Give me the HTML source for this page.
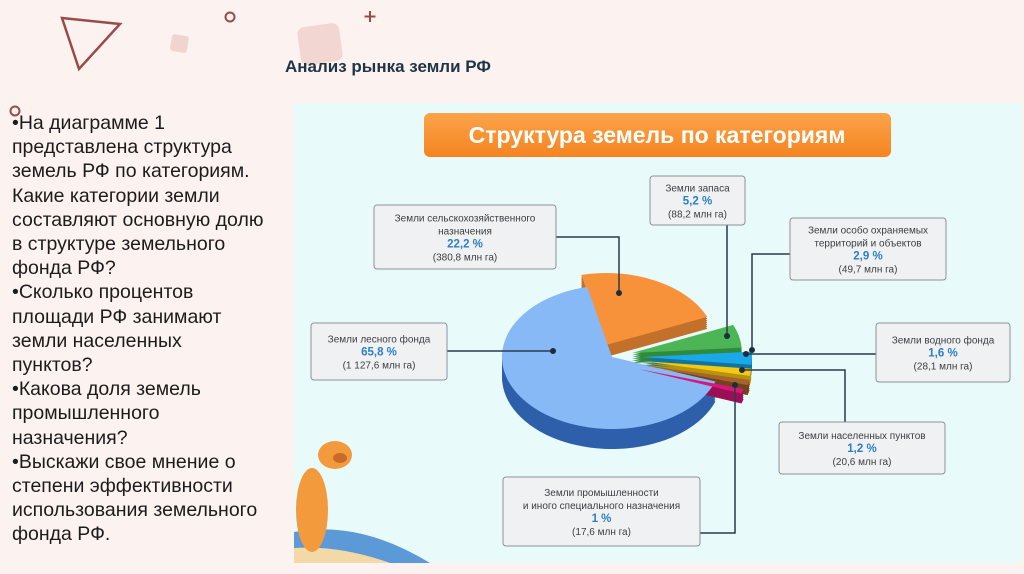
<!DOCTYPE html>
<html><head><meta charset="utf-8">
<style>
html,body{margin:0;padding:0}
body{width:1024px;height:574px;background:#fcf3f0;position:relative;overflow:hidden;font-family:"Liberation Sans",sans-serif}
.lt{position:absolute;left:12px;top:111px;width:290px;font-size:19.5px;line-height:24.2px;color:#1c1c1c;white-space:nowrap}
.hd{position:absolute;left:285px;top:57px;font-size:17px;font-weight:bold;color:#1f3446}
</style></head><body>
<svg width="1024" height="574" style="position:absolute;left:0;top:0">
<polygon points="62,18 120,24 79,69" fill="none" stroke="#9b4a4a" stroke-width="2.5"/>
<circle cx="230" cy="17" r="4.5" fill="none" stroke="#9b4a4a" stroke-width="2"/>
<circle cx="15" cy="111" r="4.5" fill="none" stroke="#9b4a4a" stroke-width="2"/>
<path d="M370 11v11M364.5 16.5h11" stroke="#9b4a4a" stroke-width="2"/>
<rect x="171" y="35" width="17" height="17" rx="3" fill="#f0d4d0" transform="rotate(10 179 43)"/>
<rect x="299" y="25" width="42" height="38" rx="7" fill="#f2d6d2" transform="rotate(-8 320 44)"/>
</svg>
<div class="hd">Анализ рынка земли РФ</div>
<div class="lt">•На диаграмме 1<br>представлена структура<br>земель РФ по категориям.<br>Какие категории земли<br>составляют основную долю<br>в структуре земельного<br>фонда РФ?<br>•Сколько процентов<br>площади РФ занимают<br>земли населенных<br>пунктов?<br>•Какова доля земель<br>промышленного<br>назначения?<br>•Выскажи свое мнение о<br>степени эффективности<br>использования земельного<br>фонда РФ.</div>

<svg id="chart" width="1024" height="574" style="position:absolute;left:0;top:0" font-family="Liberation Sans, sans-serif">
<defs><linearGradient id="og" x1="0" y1="0" x2="0" y2="1"><stop offset="0" stop-color="#fba44a"/><stop offset="1" stop-color="#f58420"/></linearGradient></defs>
<rect x="294" y="103" width="728" height="460" fill="#e9fafb"/>
<path d="M294 532 Q360 520 430 563 L294 563Z" fill="#5b9ad6"/>
<path d="M294 548 Q340 545 390 563 L294 563Z" fill="#f4d9a8"/>
<g>
<ellipse cx="312" cy="510" rx="16" ry="42" fill="#f39a3c"/>
<ellipse cx="335" cy="455" rx="17" ry="14" fill="#f39a3c"/>
<ellipse cx="340" cy="458" rx="7" ry="5" fill="#c96a2a"/>
</g>
<rect x="424" y="113" width="467" height="44" rx="6" fill="url(#og)"/>
<text x="657" y="143" text-anchor="middle" font-size="23" font-weight="bold" fill="#fff">Структура земель по категориям</text>
<g id="pie"></g>
<g id="labels"></g>
</svg>
<script>
const categories=["Земли сельскохозяйственного назначения","Земли запаса","Земли особо охраняемых территорий и объектов","Земли водного фонда","Земли населенных пунктов","Земли промышленности и иного специального назначения","Земли лесного фонда"];
const percents=[22.2,5.2,2.9,1.6,1.2,1,65.8];
const areas=["380,8","88,2","49,7","28,1","20,6","17,6","1 127,6"];
const colors=["#f7923a","#4cb556","#1aa9e8","#f5c812","#a5642c","#d8177a","#86b9f5"];
const darks=["#c2702a","#2f8a3a","#11759e","#b8930a","#74431c","#9a0f55","#2e5faa"];
const explode=[[-6,-12],[20,-4],[30,0],[30,4],[30,8],[26,12],[0,0]];
const cx=612,cy=357,rx=110,ry=72,depth=20;
const ns="http://www.w3.org/2000/svg";
const pie=document.getElementById('pie');
function pt(a,ox,oy,dy){return [cx+ox+rx*Math.cos(a),cy+oy+dy+ry*Math.sin(a)];}
function slicePath(a0,a1,ox,oy,dy){
  const p0=pt(a0,ox,oy,dy),p1=pt(a1,ox,oy,dy);
  const large=(a1-a0)>Math.PI?1:0;
  return `M${cx+ox} ${cy+oy+dy} L${p0[0]} ${p0[1]} A${rx} ${ry} 0 ${large} 1 ${p1[0]} ${p1[1]} Z`;
}
const total=percents.reduce((s,v)=>s+v,0);
let start=-103*Math.PI/180;
const angles=[];
percents.forEach((v,i)=>{const a1=start+v/total*2*Math.PI;angles.push([start,a1]);start=a1;});
const order=[0,6,1,2,3,4,5];
order.forEach(i=>{
  const [a0,a1]=angles[i],[ox,oy]=explode[i];
  const dd=i===6?depth:(i===0?12:10);
  for(let d=dd;d>0;d-=2){
    const p=document.createElementNS(ns,'path');
    p.setAttribute('d',slicePath(a0,a1,ox,oy,d));
    p.setAttribute('fill',darks[i]);
    
    
    pie.appendChild(p);
  }
});
order.forEach(i=>{
  const [a0,a1]=angles[i],[ox,oy]=explode[i];
  const p=document.createElementNS(ns,'path');
  p.setAttribute('d',slicePath(a0,a1,ox,oy,0));
  p.setAttribute('fill',colors[i]);
  
  
  pie.appendChild(p);
});
const boxes=[[374,205,182,64],[650,176,95,49],[790,218,156,62],[876,323,134,59],[779,422,166,52],[503,477,197,69],[311,323,136,57]];
const leaders=[[[556,237],[619,237],[619,293]],[[727,225],[727,336]],[[790,254],[752,254],[752,350]],[[876,354],[746,354]],[[845,422],[845,370],[742,370]],[[700,533],[735,533],[735,385]],[[447,351],[553,351]]];
const nameLines=[["Земли сельскохозяйственного","назначения"],["Земли запаса"],["Земли особо охраняемых","территорий и объектов"],["Земли водного фонда"],["Земли населенных пунктов"],["Земли промышленности","и иного специального назначения"],["Земли лесного фонда"]];
const lab=document.getElementById('labels');
boxes.forEach((b,i)=>{
  const g=document.createElementNS(ns,'g');
  
  
  const pl=document.createElementNS(ns,'polyline');
  pl.setAttribute('points',leaders[i].map(p=>p.join(',')).join(' '));
  pl.setAttribute('fill','none');pl.setAttribute('stroke','#2b3b48');pl.setAttribute('stroke-width','1.5');
  g.appendChild(pl);
  const e=leaders[i][leaders[i].length-1];
  const c=document.createElementNS(ns,'circle');
  c.setAttribute('cx',e[0]);c.setAttribute('cy',e[1]);c.setAttribute('r',3);c.setAttribute('fill','#1f2d3a');
  g.appendChild(c);
  const r=document.createElementNS(ns,'rect');
  r.setAttribute('x',b[0]);r.setAttribute('y',b[1]);r.setAttribute('width',b[2]);r.setAttribute('height',b[3]);
  r.setAttribute('rx',3);r.setAttribute('fill','#f0f1f2');r.setAttribute('stroke','#8a9299');r.setAttribute('stroke-width','1');
  g.appendChild(r);
  const lines=nameLines[i];
  const n=lines.length+2,lh=13;
  let y=b[1]+b[3]/2-(n-1)*lh/2+4;
  const mx=b[0]+b[2]/2;
  const add=(txt,sz,col,bold)=>{const t=document.createElementNS(ns,'text');t.setAttribute('x',mx);t.setAttribute('y',y);t.setAttribute('text-anchor','middle');t.setAttribute('font-size',sz);t.setAttribute('fill',col);if(bold)t.setAttribute('font-weight','bold');t.textContent=txt;g.appendChild(t);y+=lh;};
  lines.forEach(l=>add(l,10,'#3a3f44'));
  add(String(percents[i]).replace('.',',')+' %',11.5,'#2a7fc6',true);
  add('('+areas[i]+' млн га)',10,'#3a3f44');
  lab.appendChild(g);
});
</script>
</body></html>
